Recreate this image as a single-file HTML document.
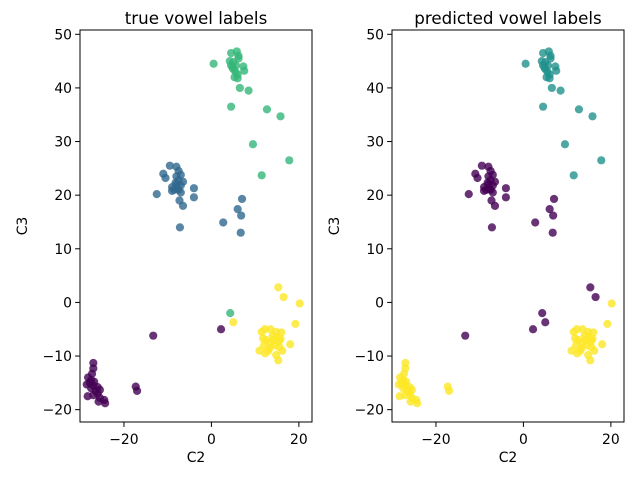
<!DOCTYPE html>
<html><head><meta charset="utf-8"><style>
body{margin:0;background:#fff;}
svg{display:block;font-family:"DejaVu Sans","Liberation Sans",sans-serif;}
</style></head><body>
<svg id="chart" width="640" height="480" viewBox="0 0 640 480"></svg>
<script>
const c2 = [0.5,4.5,5.8,6.2,4.2,4.5,5,5.5,6,5.3,6,7.3,7.5,6.2,5,4.8,5.6,6.5,8.5,4.5,12.7,15.8,9.5,17.8,11.5,4.3,
-9.5,-8,-11,-10.5,-7.5,-7,-8,-7.5,-8,-7,-9,-8.5,-7.5,-6.5,-7,-9,-12.5,-4,-4,-7.3,-6.5,-7.2,2.7,6,7,6.8,6.7,-8.2,-7.8,
-27,-27,-27.3,-28.2,-27.5,-26.8,-27,-28.5,-26,-25.5,-27.5,-26,-28.3,-27,-25.5,-24.5,-24.3,-25.8,-26.5,-27.8,-17.3,-17,-13.3,2.2,
15.3,16.5,20.2,5,19.2,11.5,12.2,13.5,14.8,16,11.8,12.5,13.5,14,15,15.5,14.5,13.3,12,15.5,18,11,12.3,14.8,16.2,15.3,13,14.2,15.8];
const c3 = [44.5,46.5,46.8,46,45,44.2,43.5,43,42.5,42,41.8,44,43.2,45.5,44.8,43.8,44.2,40,39.5,36.5,36,34.7,29.5,26.5,23.7,-2,
25.5,25.3,24,23.2,24.5,23.8,23.5,22.8,22,21.8,21.5,21,21,22.5,20.5,20.8,20.2,21.3,19.6,19,18,14,14.9,17.4,19.3,16.2,13,22.3,21.3,
-11.3,-12.3,-13.3,-14,-14.5,-14.8,-15.5,-15.3,-15.8,-16.3,-16,-17,-17.5,-17.3,-17.8,-18.2,-18.8,-18.5,-16.5,-15,-15.7,-16.5,-6.2,-5,
2.8,1,-0.2,-3.7,-4,-5.5,-5,-5,-5.5,-5.6,-6.7,-7,-7.5,-6.2,-6.5,-7.2,-8,-8.5,-8,-8.3,-7.8,-9,-9.5,-9.8,-9,-10.8,-9,-7,-6.8];
const trueLabel = [
2,2,2,2,2,2,2,2,2,2, 2,2,2,2,2,2,2,2,2,2, 2,2,2,2,2,2,
1,1,1,1,1,1,1,1,1,1, 1,1,1,1,1,1,1,1,1,1, 1,1,1,1,1,1,1,1,1,
0,0,0,0,0,0,0,0,0,0, 0,0,0,0,0,0,0,0,0,0, 0,0,0,0,
3,3,3,3,3,3,3,3,3,3, 3,3,3,3,3,3,3,3,3,3, 3,3,3,3,3,3,3,3,3];
const predLabel = [
1,1,1,1,1,1,1,1,1,1, 1,1,1,1,1,1,1,1,1,1, 1,1,1,1,1,0,
0,0,0,0,0,0,0,0,0,0, 0,0,0,0,0,0,0,0,0,0, 0,0,0,0,0,0,0,0,0,
2,2,2,2,2,2,2,2,2,2, 2,2,2,2,2,2,2,2,2,2, 2,2,0,0,
0,0,2,0,2,2,2,2,2,2, 2,2,2,2,2,2,2,2,2,2, 2,2,2,2,2,2,2,2,2];
const trueColors = ["#440154","#31688e","#35b779","#fde725"];
const predColors = ["#440154","#21918c","#fde725"];
const xTicks = [-20,0,20];
const yTicks = [-20,-10,0,10,20,30,40,50];

const NS="http://www.w3.org/2000/svg";
const svg=document.getElementById('chart');
function mk(tag,attrs,parent){const e=document.createElementNS(NS,tag);for(const k in attrs)e.setAttribute(k,attrs[k]);(parent||svg).appendChild(e);return e;}
const xmin=-30.05,xmax=23.0,ymin=-22.3,ymax=50.8,plotTop=30,plotBottom=422;
function panel(left,right,labels,colors,title,key){
  const g=mk('g',{});
  
  
  const sx=v=>left+(v-xmin)/(xmax-xmin)*(right-left);
  const sy=v=>plotBottom-(v-ymin)/(ymax-ymin)*(plotBottom-plotTop);
  const n=Math.min(c2.length,c3.length,labels.length);
  for(let i=0;i<n;i++){
    const c=mk('circle',{cx:sx(c2[i]),cy:sy(c3[i]),r:4.1,fill:colors[labels[i]]||'#440154','fill-opacity':0.8},g);
    
    
  }
  const fr=mk('rect',{x:left,y:plotTop,width:right-left,height:plotBottom-plotTop,fill:'none',stroke:'#000','stroke-width':1},g);
  
  
  xTicks.forEach(t=>{
    const x=sx(t);
    mk('line',{x1:x,x2:x,y1:plotBottom,y2:plotBottom+4.9,stroke:'#000'},g);
    const tx=mk('text',{x:x,y:plotBottom+22,'text-anchor':'middle','font-size':13.9,fill:'#000'},g);
    tx.textContent=t<0?'\u2212'+(-t):String(t);
    
    
  });
  yTicks.forEach(t=>{
    const y=sy(t);
    mk('line',{x1:left-4.9,x2:left,y1:y,y2:y,stroke:'#000'},g);
    const tx=mk('text',{x:left-8,y:y+5,'text-anchor':'end','font-size':13.9,fill:'#000'},g);
    tx.textContent=t<0?'\u2212'+(-t):String(t);
    
    
  });
  const xl=mk('text',{x:(left+right)/2,y:462,'text-anchor':'middle','font-size':13.9},g);
  xl.textContent='C2';
  
  
  const yl=mk('text',{x:0,y:0,'text-anchor':'middle','font-size':13.9,transform:`translate(${left-53},${(plotTop+plotBottom)/2}) rotate(-90)`},g);
  yl.textContent='C3';
  
  
  const tt=mk('text',{x:(left+right)/2,y:plotTop-6,'text-anchor':'middle','font-size':16.7},g);
  tt.textContent=title;
  
  
}
panel(80,312,trueLabel,trueColors,'true vowel labels','true-labels');
panel(392,624,predLabel,predColors,'predicted vowel labels','predicted-labels');
</script>
</body></html>
